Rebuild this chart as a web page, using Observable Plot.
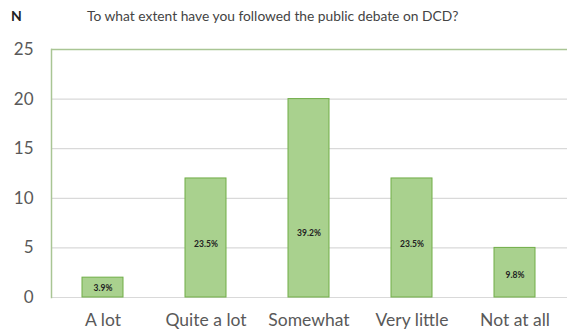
<!DOCTYPE html>
<html><head><meta charset="utf-8">
<script src="https://cdn.jsdelivr.net/npm/d3@7"></script>
<script src="https://cdn.jsdelivr.net/npm/@observablehq/plot@0.6"></script>
<style>
body{margin:0;background:#fff;font-family:Lato,"Open Sans",sans-serif;}
#wrap{position:relative;width:568px;height:333px;}
#n{position:absolute;left:11px;top:7px;font-size:14px;font-weight:bold;color:#222;}
#title{position:absolute;left:87px;top:7px;font-size:13.8px;color:#444;}
</style></head>
<body><div id="wrap"><div id="n">N</div><div id="title">To what extent have you followed the public debate on DCD?</div></div>
<script>
const categories = ["A lot","Quite a lot","Somewhat","Very little","Not at all"];
const counts = [2, 12, 20, 12, 5];
const percents = ["3.9%","23.5%","39.2%","23.5%","9.8%"];
const yTicks = [0,5,10,15,20,25];

const data = categories.map((c,i)=>({cat:c, n:counts[i], pct:percents[i], ly:Math.min(counts[i]*0.45, 6.5)}));

const chart = Plot.plot({
  width:568, height:333,
  marginLeft:51, marginRight:1, marginTop:49, marginBottom:36,
  style:{fontFamily:"Lato, 'Open Sans', sans-serif", background:"transparent"},
  x:{domain:categories, paddingInner:0.6, paddingOuter:0.3, label:null},
  y:{domain:[0,25], label:null},
  marks:[
    Plot.ruleY([5,10,15,20,0], {stroke:"#d9d9d9", strokeWidth:1.2}),
    Plot.ruleY([25], {stroke:"#a9c594", strokeWidth:1.5}),
    Plot.frame({anchor:"left", stroke:"#a9c594", strokeWidth:1.5}),
    Plot.barY(data, {x:"cat", y:"n", fill:"#a9d18e", stroke:"#70ad47", strokeWidth:1}),
    Plot.text(data, {x:"cat", y:"ly", text:"pct", fontSize:8.5, fontWeight:"bold", fill:"#222"}),
    Plot.axisY({ticks:yTicks, tickSize:0, tickPadding:18, fontSize:17, color:"#595959", label:null}),
    Plot.axisX({tickSize:0, tickPadding:16, fontSize:17.5, color:"#595959", label:null})
  ]
});
document.getElementById("wrap").prepend(chart);
chart.style.position="absolute"; chart.style.left="0"; chart.style.top="0";
</script></body></html>
